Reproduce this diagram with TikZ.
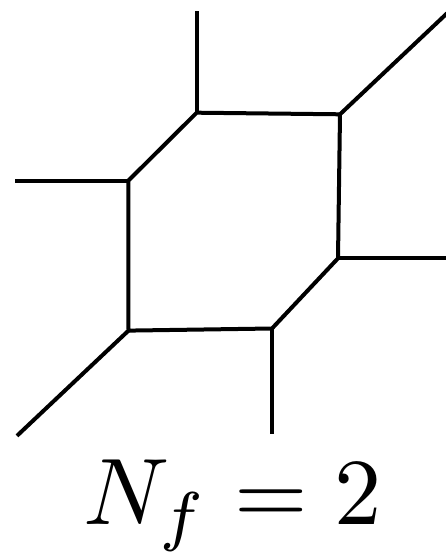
\documentclass[tikz,border=0pt]{standalone}
\begin{document}
\begin{tikzpicture}[x=1pt,y=-1pt,
  leg/.style={line width=4pt,black},
  lbl/.style={inner sep=0pt,scale=9.45,anchor=base}]
\useasboundingbox (0,0) rectangle (446,556);
\coordinate (A) at (196.7,112.7);
\coordinate (B) at (340,114.3);
\coordinate (C) at (338,258.3);
\coordinate (D) at (272,328.5);
\coordinate (E) at (128.5,330.6);
\coordinate (F) at (128.3,180.7);
\coordinate (At) at (196.7,10.6);
\coordinate (Bt) at (450,10.5);
\coordinate (Ft) at (15,180.7);
\coordinate (Ct) at (450,258.3);
\coordinate (Et) at (17,435.8);
\coordinate (Dt) at (272,433.7);
\draw[leg,line join=miter] (A) -- (B) -- (C) -- (D) -- (E) -- (F) -- cycle;
\draw[leg] (A) -- (At);
\draw[leg] (B) -- (Bt);
\draw[leg] (F) -- (Ft);
\draw[leg] (C) -- (Ct);
\draw[leg] (E) -- (Et);
\draw[leg] (D) -- (Dt);
\node[lbl] (label) at (232.5,524) {$N_f = 2$};
\end{tikzpicture}
\end{document}
